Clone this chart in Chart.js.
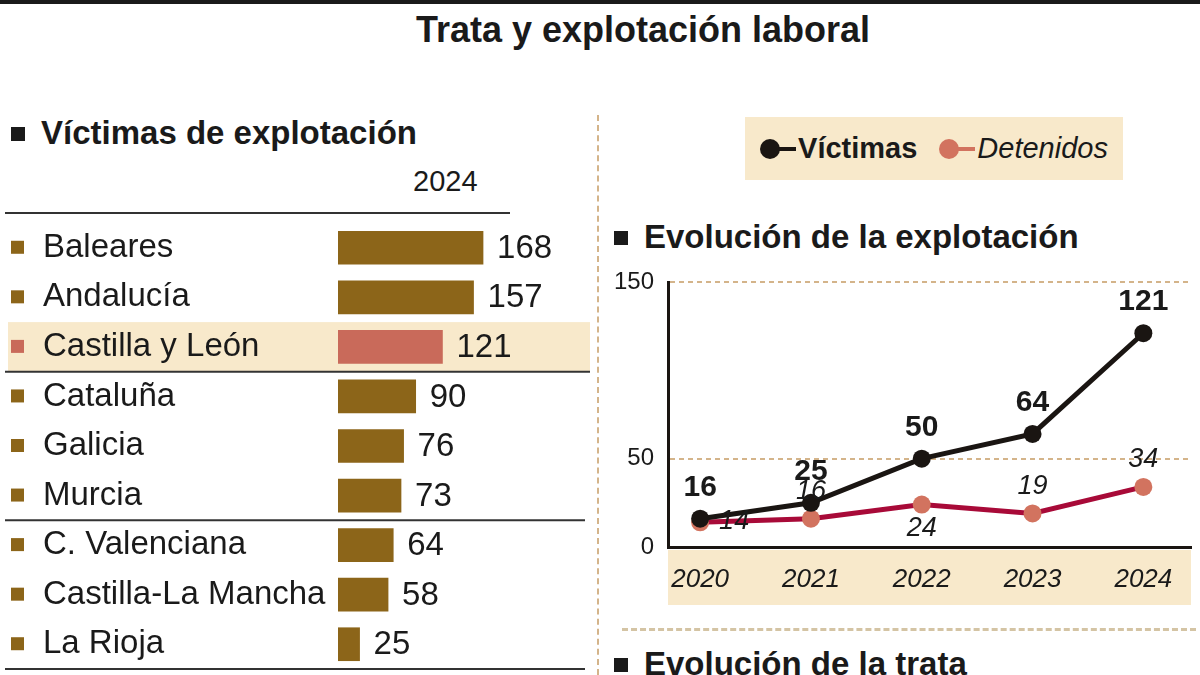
<!DOCTYPE html>
<html lang="es">
<head>
<meta charset="utf-8">
<title>Trata y explotación laboral</title>
<script src="https://cdn.jsdelivr.net/npm/chart.js@4.4.1/dist/chart.umd.min.js"></script>
<style>
  body{margin:0;background:#fff;font-family:"Liberation Sans Narrow","Arial Narrow","Liberation Sans",Arial,sans-serif;color:#1a1a1a;}
  #page{position:relative;width:1200px;height:675px;overflow:hidden;}
  .abs{position:absolute;}
  #topbar{left:0;top:0;width:1200px;height:4px;background:#1a1a1a;}
  #title{left:0;width:1286px;top:9px;text-align:center;font-weight:bold;font-size:36px;}
  .head{font-weight:bold;font-size:33px;white-space:nowrap;}
  .head:before{content:"";display:inline-block;width:14px;height:14px;background:#1a1a1a;margin-right:16px;vertical-align:3px;}
  #year{left:413px;top:165px;font-size:29px;}
  #vsep{left:597px;top:115px;width:0;height:560px;border-left:2px dashed #d4b48a;}
  #hsep{left:622px;top:628px;width:574px;height:0;border-top:3px dashed #d4c4a4;}
  #legend{left:745px;top:117px;width:378px;height:63px;background:#f8e9cb;display:flex;align-items:center;justify-content:center;gap:22px;font-size:29px;}
  .item{display:flex;align-items:center;}
  .mk{position:relative;width:36px;height:20px;margin-right:2px;}
  .mk .dot{position:absolute;left:0;top:0;width:20px;height:20px;border-radius:50%;}
  .mk .ln{position:absolute;left:10px;top:8px;width:26px;height:4px;}
  #cBar{left:0;top:212px;}
  #cLine{left:600px;top:262px;}
</style>
</head>
<body>
<div id="page">
  <div id="topbar" class="abs"></div>
  <div id="title" class="abs">Trata y explotación laboral</div>
  <div class="abs head" style="left:11px;top:114px;">Víctimas de explotación</div>
  <div id="year" class="abs">2024</div>
  <div id="vsep" class="abs"></div>
  <div id="legend" class="abs"></div>
  <div class="abs head" style="left:614px;top:218px;">Evolución de la explotación</div>
  <div id="hsep" class="abs"></div>
  <div class="abs head" style="left:614px;top:645px;">Evolución de la trata</div>
  <canvas id="cBar" class="abs" width="600" height="463"></canvas>
  <canvas id="cLine" class="abs" width="600" height="413"></canvas>
</div>
<script>
const FONT='"Liberation Sans Narrow","Arial Narrow","Liberation Sans",Arial,sans-serif';

// victimas de explotacion 2024 por comunidad
const regiones=["Baleares","Andalucía","Castilla y León","Cataluña","Galicia","Murcia","C. Valenciana","Castilla-La Mancha","La Rioja"];
const victimasRegion=[168,157,121,90,76,73,64,58,25];
const destacada="Castilla y León";

// evolucion de la explotacion
const anios=["2020","2021","2022","2023","2024"];
const victimas=[16,25,50,64,121];
const detenidos=[14,16,24,19,34];
const ticksY=[0,50,150];
const series=["Víctimas","Detenidos"];

const MARRON="#8c6519", SALMON="#c96a5a", BEIGE="#f8e9cb", NEGRO="#1a1512", GRANATE="#a80a38", PUNTO="#d2735f";

// leyenda (html)
let leg=document.getElementById("legend");
let colLeg=[NEGRO,PUNTO];
series.forEach((s,i)=>{
  let st=i==0?"font-weight:bold":"font-style:italic";
  leg.innerHTML+=`<div class="item"><div class="mk"><div class="dot" style="background:${colLeg[i]}"></div><div class="ln" style="background:${colLeg[i]}"></div></div><span style="${st}">${s}</span></div>`;
});

// ---- barras ----
const separadores=[2,5,8];
let barDeco={
  id:"barDeco",
  beforeDraw(chart){
    let ctx=chart.ctx, y=chart.scales.y, area=chart.chartArea;
    let paso=(area.bottom-area.top)/regiones.length;
    let idx=regiones.indexOf(destacada);
    let yc=y.getPixelForValue(idx);
    ctx.save();
    ctx.fillStyle=BEIGE;
    ctx.fillRect(8,yc-paso/2,582,paso);
    ctx.strokeStyle="#333"; ctx.lineWidth=2;
    ctx.beginPath(); ctx.moveTo(5,area.top-10); ctx.lineTo(510,area.top-10); ctx.stroke();
    separadores.forEach((s,k)=>{
      let ys=y.getPixelForValue(s)+paso/2;
      ctx.beginPath(); ctx.moveTo(5,ys); ctx.lineTo(k==0?590:585,ys); ctx.stroke();
    });
    ctx.restore();
  },
  afterDatasetsDraw(chart){
    let ctx=chart.ctx, meta=chart.getDatasetMeta(0);
    ctx.save();
    ctx.font="33px "+FONT; ctx.textBaseline="middle"; ctx.textAlign="left";
    meta.data.forEach((b,i)=>{
      ctx.fillStyle="#1a1a1a";
      ctx.fillText(victimasRegion[i],b.x+14,b.y+1);
      // cuadradito
      ctx.fillStyle=regiones[i]==destacada?SALMON:MARRON;
      ctx.fillRect(11,b.y-7,13,13);
    });
    ctx.restore();
  }
};

new Chart(document.getElementById("cBar"),{
  type:"bar",
  data:{
    labels:regiones,
    datasets:[{
      data:victimasRegion,
      backgroundColor:regiones.map(r=>r==destacada?SALMON:MARRON),
      barThickness:33
    }]
  },
  options:{
    indexAxis:"y",
    responsive:false,
    animation:false,
    layout:{padding:{left:43,right:3,top:11,bottom:6}},
    plugins:{legend:{display:false},tooltip:{enabled:false}},
    scales:{
      x:{display:false,min:0,max:300},
      y:{
        grid:{display:false},border:{display:false},
        ticks:{crossAlign:"far",color:"#1a1a1a",font:{family:FONT,size:33},padding:0},
        afterFit(s){s.width=295;s.paddingTop=0;s.paddingBottom=0;}
      }
    }
  },
  plugins:[barDeco]
});

// ---- lineas ----
const posDetenidos=["right","above","below","above","above"];
let lineDeco={
  id:"lineDeco",
  beforeDraw(chart){
    let ctx=chart.ctx, a=chart.chartArea;
    ctx.save();
    ctx.fillStyle=BEIGE;
    ctx.fillRect(a.left,a.bottom+3,a.right-a.left,55);
    ctx.restore();
  },
  afterDatasetsDraw(chart){
    let ctx=chart.ctx;
    ctx.save();
    ctx.textAlign="center"; ctx.textBaseline="middle"; ctx.fillStyle="#1a1a1a";
    ctx.font="bold 30px "+FONT;
    chart.getDatasetMeta(0).data.forEach((p,i)=>{
      ctx.fillText(victimas[i],p.x,p.y-31);
    });
    ctx.font="italic 27px "+FONT;
    chart.getDatasetMeta(1).data.forEach((p,i)=>{
      let pos=posDetenidos[i], dx=0, dy=-27;
      if(pos=="right"){dx=34;dy=-1;}
      if(pos=="below"){dy=24;}
      ctx.fillText(detenidos[i],p.x+dx,p.y+dy);
    });
    ctx.restore();
  }
};

new Chart(document.getElementById("cLine"),{
  type:"line",
  data:{
    datasets:[
      {label:series[0],data:anios.map((a,i)=>({x:Number(a),y:victimas[i]})),
       borderColor:NEGRO,backgroundColor:NEGRO,borderWidth:5,pointRadius:9,pointBorderWidth:0,pointBackgroundColor:NEGRO},
      {label:series[1],data:anios.map((a,i)=>({x:Number(a),y:detenidos[i]})),
       borderColor:GRANATE,backgroundColor:PUNTO,borderWidth:5,pointRadius:9,pointBorderWidth:0,pointBackgroundColor:PUNTO}
    ]
  },
  options:{
    responsive:false,
    animation:false,
    layout:{padding:{left:0,right:5,top:20,bottom:70}},
    plugins:{legend:{display:false},tooltip:{enabled:false}},
    scales:{
      x:{
        type:"linear",min:2019.71,max:2024.43,
        grid:{display:false},
        border:{display:true,color:NEGRO,width:3},
        afterBuildTicks(s){s.ticks=anios.map(a=>({value:Number(a)}));},
        ticks:{callback:v=>String(v),color:"#1a1a1a",font:{family:FONT,size:26,style:"italic"},padding:9,maxRotation:0,autoSkip:false},
        afterFit(s){s.height=58;s.paddingLeft=0;s.paddingRight=0;}
      },
      y:{
        min:0,max:150,
        afterBuildTicks(s){s.ticks=ticksY.map(v=>({value:v}));},
        grid:{drawTicks:false,lineWidth:2,color:c=>c.tick && c.tick.value==0?"rgba(0,0,0,0)":"#d4b48a"},
        border:{display:true,color:NEGRO,width:3,dash:[5,4]},
        ticks:{color:"#1a1a1a",font:{family:FONT,size:24},padding:14},
        afterFit(s){s.width=68;s.paddingTop=0;s.paddingBottom=0;}
      }
    }
  },
  plugins:[lineDeco]
});
</script>
</body>
</html>
